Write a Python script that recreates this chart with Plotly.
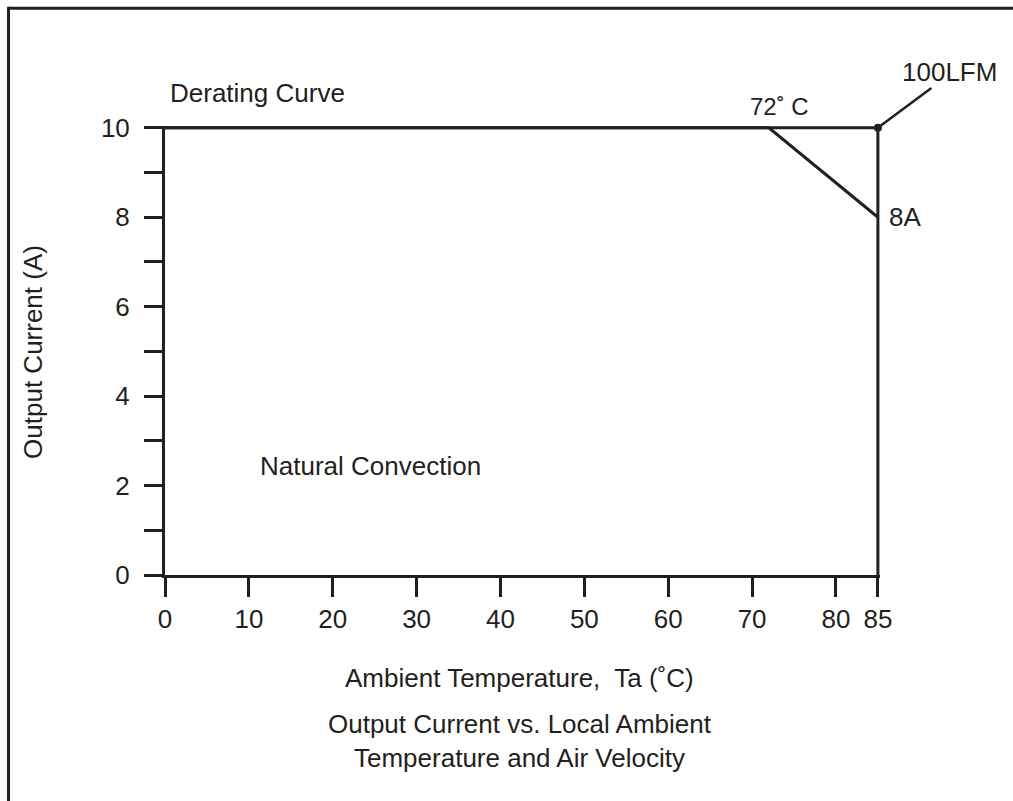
import plotly.graph_objects as go

# derating curves (ambient temperature in C, output current in A)
natural_x = [0, 72, 85]
natural_y = [10, 10, 8]
lfm_x = [0, 85, 85]
lfm_y = [10, 10, 0]

x_ticks = [0, 10, 20, 30, 40, 50, 60, 70, 80, 85]
x_labels = [str(v) for v in x_ticks]
y_ticks = list(range(0, 11))
y_labels = [str(v) if v % 2 == 0 else "" for v in y_ticks]

ink = "#231f20"
font = "Liberation Sans, Arial, sans-serif"
fsize = 26

W, H = 1013, 801
x_rng = [0, 85.25]
y_rng = [0, 10.04]
x0_px, x85_px = 165, 878
y0_px, y10_px = 575, 128
sx = (x85_px - x0_px) / 85
sy = (y0_px - y10_px) / 10
L = x0_px
R = x0_px + x_rng[1] * sx
B = y0_px
T = y0_px - y_rng[1] * sy

fig = go.Figure()
fig.add_trace(go.Scatter(x=natural_x, y=natural_y, mode="lines",
                         line=dict(color=ink, width=3), cliponaxis=False,
                         hoverinfo="skip"))
fig.add_trace(go.Scatter(x=lfm_x, y=lfm_y, mode="lines",
                         line=dict(color=ink, width=3), cliponaxis=False,
                         hoverinfo="skip"))
fig.add_trace(go.Scatter(x=[lfm_x[1]], y=[lfm_y[1]], mode="markers",
                         marker=dict(color=ink, size=8), cliponaxis=False,
                         hoverinfo="skip"))

fig.update_xaxes(range=x_rng, tickvals=x_ticks, ticktext=x_labels,
                 showgrid=False, zeroline=False, showline=True,
                 linecolor=ink, linewidth=3, ticks="outside", ticklen=19,
                 tickwidth=3, tickcolor=ink, ticklabelstandoff=0,
                 tickfont=dict(size=fsize, color=ink, family=font))
fig.update_yaxes(range=y_rng, tickvals=y_ticks, ticktext=y_labels,
                 showgrid=False, zeroline=False, showline=True,
                 linecolor=ink, linewidth=3, ticks="outside", ticklen=18,
                 tickwidth=3, tickcolor=ink, ticklabelstandoff=9,
                 tickfont=dict(size=fsize, color=ink, family=font))


def px_x(p):
    return (p - L) / (R - L)


def px_y(p):
    return (B - p) / (B - T)


text_font = dict(size=fsize, color=ink, family=font)


def label(text, sx_, sy_, **kw):
    d = dict(text=text, x=px_x(sx_), y=px_y(sy_), xref="paper", yref="paper",
             xanchor="center", yanchor="middle", showarrow=False,
             font=text_font)
    d.update(kw)
    return d


annotations = [
    label("Derating Curve", 258, 93),
    label("Natural Convection", 371, 466),
    label("72˚ C", 780, 107, font=dict(size=24, color=ink, family=font)),
    label("100LFM", 950, 72),
    label("Output Current (A)", 33, 352, textangle=-90),
    label("Ambient Temperature,  Ta (˚C)", 520, 678),
    label("Output Current vs. Local Ambient<br>Temperature and Air Velocity",
          520, 741),
    dict(text="8A", x=85, y=8, xref="x", yref="y", xanchor="left", xshift=9,
         showarrow=False, font=text_font),
    # leader from the 100LFM point to its label
    dict(text="", x=85, y=10, xref="x", yref="y", ax=933 - x85_px,
         ay=87 - y10_px, showarrow=True, arrowhead=0, arrowwidth=2.5,
         arrowcolor=ink, standoff=0),
]

# outer frame: only top and left edges fall inside the picture
frame = dict(type="line", xref="paper", yref="paper",
             line=dict(color=ink, width=3))
shapes = [
    dict(frame, x0=px_x(8.5), y0=px_y(8.5), x1=px_x(1040), y1=px_y(8.5)),
    dict(frame, x0=px_x(8.5), y0=px_y(7), x1=px_x(8.5), y1=px_y(840)),
]

fig.update_layout(
    width=W, height=H,
    margin=dict(l=L, r=W - R, t=T, b=H - B, pad=0),
    paper_bgcolor="white", plot_bgcolor="white",
    showlegend=False,
    annotations=annotations, shapes=shapes,
)

fig.write_html("out.html", config={"displayModeBar": False},
               post_script="document.body.style.margin='0';"
                           "document.body.style.overflow='hidden';")
